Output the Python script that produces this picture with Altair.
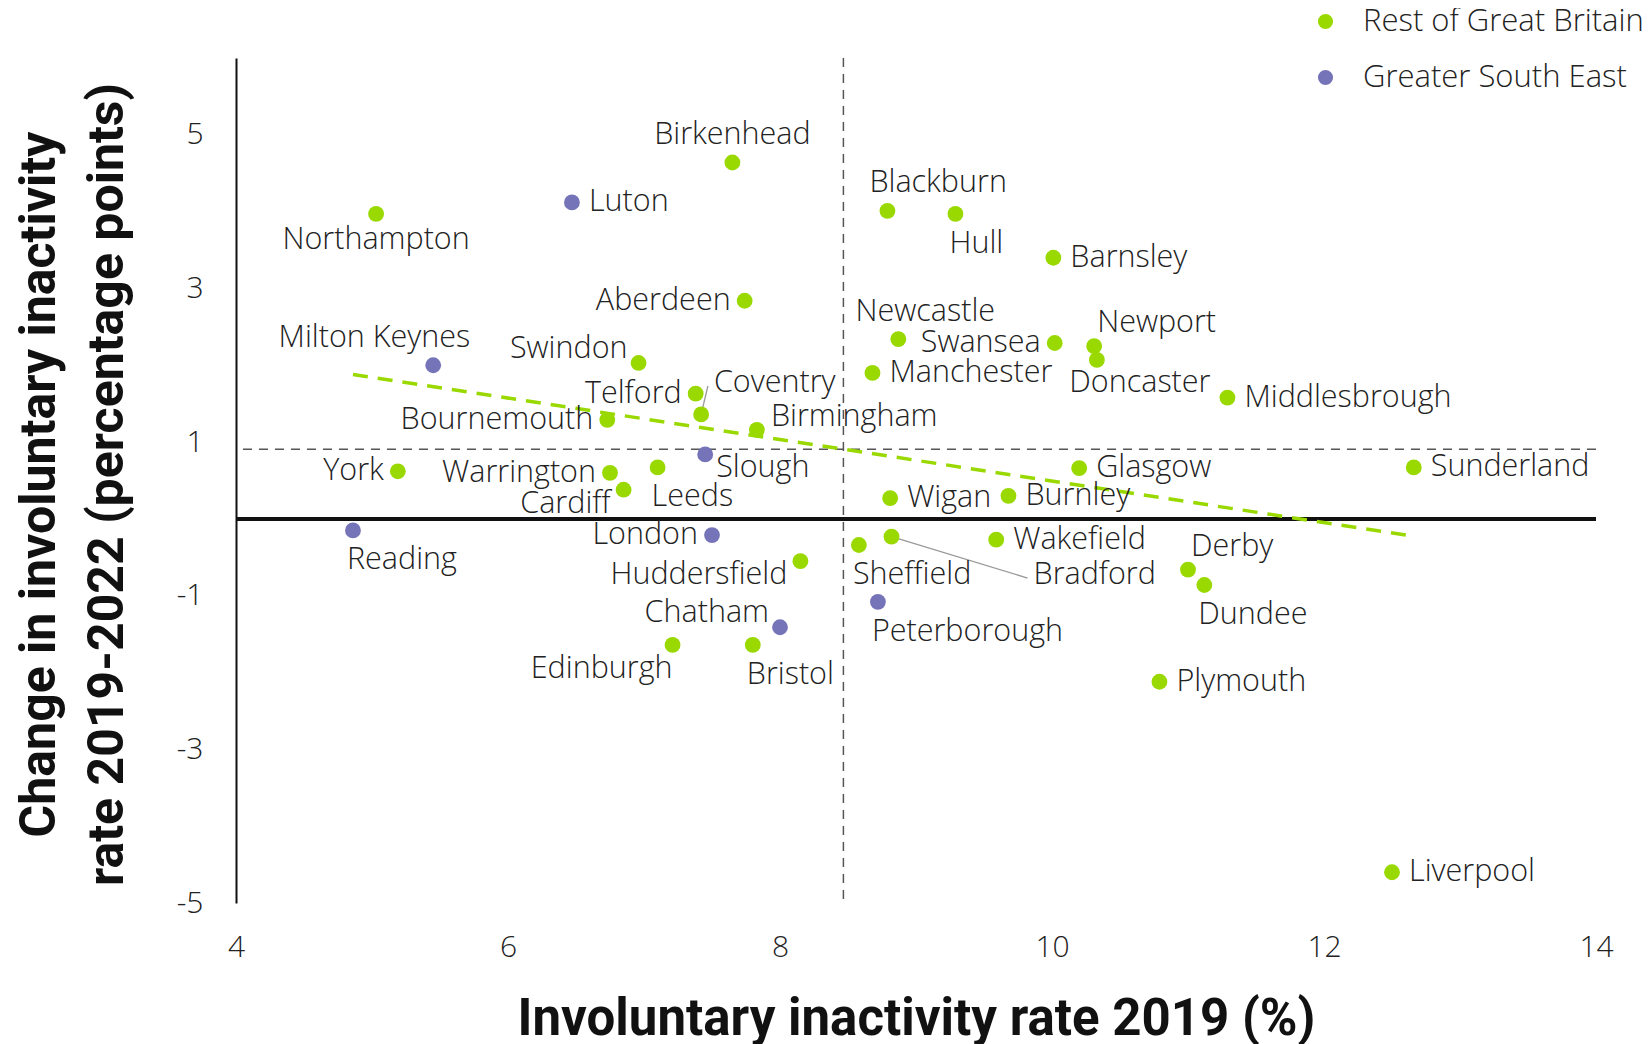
import altair as alt
import pandas as pd

# ---- data ----
cities = ["Northampton", "Luton", "Birkenhead", "Aberdeen", "Milton Keynes", "Swindon",
          "Telford", "Coventry", "Bournemouth", "Birmingham", "Slough", "York",
          "Warrington", "Leeds", "Cardiff", "Reading", "London", "Huddersfield",
          "Chatham", "Edinburgh", "Bristol", "Blackburn", "Hull", "Barnsley",
          "Newcastle", "Swansea", "Newport", "Doncaster", "Manchester", "Middlesbrough",
          "Glasgow", "Sunderland", "Wigan", "Burnley", "Sheffield", "Bradford",
          "Wakefield", "Derby", "Dundee", "Peterborough", "Plymouth", "Liverpool"]
rate_2019 = [5.03, 6.47, 7.65, 7.74, 5.45, 6.96,
             7.38, 7.42, 6.73, 7.83, 7.45, 5.19,
             6.75, 7.10, 6.85, 4.86, 7.50, 8.15,
             8.00, 7.21, 7.80, 8.79, 9.29, 10.01,
             8.87, 10.02, 10.31, 10.33, 8.68, 11.29,
             10.20, 12.66, 8.81, 9.68, 8.58, 8.82,
             9.59, 11.00, 11.12, 8.72, 10.79, 12.50]
change = [3.97, 4.12, 4.64, 2.84, 2.00, 2.03,
          1.63, 1.36, 1.29, 1.16, 0.84, 0.62,
          0.60, 0.67, 0.38, -0.15, -0.21, -0.55,
          -1.41, -1.64, -1.64, 4.01, 3.97, 3.40,
          2.34, 2.29, 2.25, 2.07, 1.90, 1.58,
          0.66, 0.67, 0.27, 0.30, -0.34, -0.23,
          -0.27, -0.66, -0.86, -1.08, -2.12, -4.60]
GSE = "Greater South East"
ROGB = "Rest of Great Britain"
region = [ROGB, GSE, ROGB, ROGB, GSE, ROGB,
          ROGB, ROGB, ROGB, ROGB, GSE, ROGB,
          ROGB, ROGB, ROGB, GSE, GSE, ROGB,
          GSE, ROGB, ROGB, ROGB, ROGB, ROGB,
          ROGB, ROGB, ROGB, ROGB, ROGB, ROGB,
          ROGB, ROGB, ROGB, ROGB, ROGB, ROGB,
          ROGB, ROGB, ROGB, GSE, ROGB, ROGB]
# label placement code relative to the dot
placement = ["b", "r", "t", "l", "tl", "lt",
             "l", "lead", "l", "rt", "rb", "l",
             "l", "br", "lb", "br", "l", "lb",
             "lt", "bl", "br", "ta", "br", "r",
             "tc", "l", "tr", "bc", "r", "r",
             "r", "r", "r", "r", "br", "lead",
             "r", "tr", "br", "br", "r", "r"]

# labels connected to their dot with a leader line
leader_city = ["Coventry", "Bradford"]
leader_end_x = [7.47, 9.82]
leader_end_y = [1.73, -0.77]

legend_order = [ROGB, GSE]
x_ticks = [4, 6, 8, 10, 12, 14]
y_ticks = [5, 3, 1, -1, -3, -5]

# ---- styles ----
GREEN = "#99d900"
PURPLE = "#7674b8"
LABEL_FONT = "Open Sans"
TITLE_FONT = "Roboto"
LABEL_SIZE = 30.5

placement_style = {
    "r": (17, 0, "left"),
    "l": (-14, 0, "right"),
    "rt": (14, -13, "left"),
    "rb": (11, 14, "left"),
    "lt": (-11, -14, "right"),
    "lb": (-13, 14, "right"),
    "t": (0, -27, "center"),
    "b": (0, 26, "center"),
    "br": (-6, 30, "left"),
    "bl": (0, 24, "right"),
    "tr": (3, -23, "left"),
    "tl": (37, -27, "right"),
    "tc": (27, -27, "center"),
    "ta": (-18, -28, "left"),
    "bc": (43, 23, "center"),
}

df = pd.DataFrame({"city": cities, "x": rate_2019, "y": change,
                   "region": region, "place": placement})
lead = pd.DataFrame({"city": leader_city, "ex": leader_end_x, "ey": leader_end_y})
lead = lead.merge(df[["city", "x", "y"]], on="city")

xscale = alt.Scale(domain=[4, 14], nice=False, zero=False)
yscale = alt.Scale(domain=[-5, 6], nice=False, zero=False)

X = alt.X("x:Q", scale=xscale,
          axis=alt.Axis(values=x_ticks, format="d", domain=False, ticks=False, grid=False,
                        labelFlush=False,
                        labelFontSize=30, labelFont=LABEL_FONT, labelColor="#222",
                        labelFontWeight=300, labelPadding=29,
                        title="Involuntary inactivity rate 2019 (%)",
                        titleFont=TITLE_FONT, titleFontSize=51, titleFontWeight="bold",
                        titleColor="#111", titleX=680, titleY=116, titleBaseline="middle"))
Y = alt.Y("y:Q", scale=yscale,
          axis=alt.Axis(values=y_ticks, domain=True, domainColor="#111", domainWidth=2,
                        ticks=False, grid=False, labelFlush=False,
                        labelFontSize=30, labelFont=LABEL_FONT, labelColor="#222",
                        labelFontWeight=300,
                        labelPadding=33, labelExpr="'' + datum.value",
                        title=["Change in involuntary inactivity",
                               "rate 2019-2022 (percentage points)"],
                        titleFont=TITLE_FONT, titleFontSize=50, titleFontWeight="bold",
                        titleColor="#111", titleLineHeight=68,
                        titleX=-197, titleY=426, titleBaseline="middle",
                        titleAngle=270, titleAlign="center"))

base = alt.Chart(df)

mean_v = base.mark_rule(color="#555", strokeDash=[9, 7], strokeWidth=1.5).encode(
    x=alt.X("mx:Q", scale=xscale)
).transform_aggregate(mx="mean(x)")
mean_h = base.mark_rule(color="#555", strokeDash=[9, 7], strokeWidth=1.5).encode(
    y=alt.Y("my:Q", scale=yscale)
).transform_aggregate(my="mean(y)")
zero = base.mark_rule(color="#111", strokeWidth=2.5).encode(y=alt.datum(0, scale=yscale))

trend = base.transform_regression("x", "y").mark_line(
    color=GREEN, strokeDash=[15, 10], strokeWidth=3.5
).encode(x=alt.X("x:Q", scale=xscale), y=alt.Y("y:Q", scale=yscale))

leaders = alt.Chart(lead).mark_rule(color="#999", strokeWidth=1.3).encode(
    x=alt.X("x:Q", scale=xscale), y=alt.Y("y:Q", scale=yscale), x2="ex:Q", y2="ey:Q")

points = base.mark_circle(size=250, opacity=1).encode(
    x=X, y=Y,
    color=alt.Color("region:N",
                    scale=alt.Scale(domain=legend_order, range=[GREEN, PURPLE]),
                    legend=alt.Legend(title=None, orient="none", legendX=1074, legendY=-52,
                                      symbolType="circle", symbolSize=230,
                                      symbolStrokeWidth=0, labelLimit=500,
                                      labelFontSize=31, labelFont=LABEL_FONT,
                                      labelFontWeight=300,
                                      labelColor="#222", rowPadding=24, labelOffset=22,
                                      padding=0))
)

label_layers = []
for code, (dx, dy, align) in placement_style.items():
    label_layers.append(
        base.transform_filter(alt.datum.place == code).mark_text(
            dx=dx, dy=dy, align=align, baseline="middle",
            font=LABEL_FONT, fontSize=LABEL_SIZE, fontWeight=300, color="#222"
        ).encode(x=alt.X("x:Q", scale=xscale), y=alt.Y("y:Q", scale=yscale), text="city:N")
    )
lead_labels = alt.Chart(lead).mark_text(
    dx=6, dy=-3, align="left", baseline="middle",
    font=LABEL_FONT, fontSize=LABEL_SIZE, fontWeight=300, color="#222"
).encode(x=alt.X("ex:Q", scale=xscale), y=alt.Y("ey:Q", scale=yscale), text="city:N")

chart = alt.layer(
    mean_v, mean_h, zero, trend, leaders, points, *label_layers, lead_labels
).properties(
    width=1360, height=845,
    autosize=alt.AutoSizeParams(type="none"),
    padding={"left": 228, "top": 50, "right": 48, "bottom": 141},
).configure_view(stroke=None)

chart.save("out.html", embed_options={"renderer": "svg", "actions": False})
